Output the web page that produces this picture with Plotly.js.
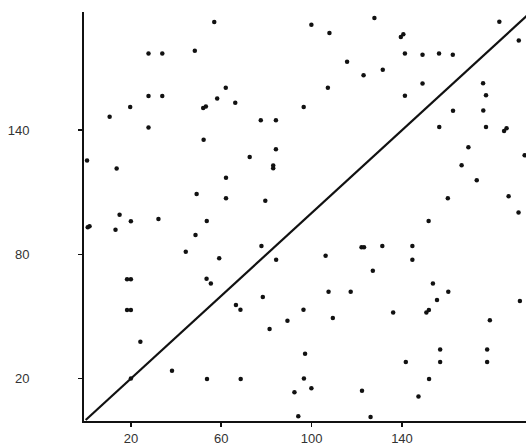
<!DOCTYPE html>
<html>
<head>
<meta charset="utf-8">
<script src="https://cdn.plot.ly/plotly-3.0.1.min.js"></script>
<style>
  html, body { margin: 0; padding: 0; background: #ffffff; }
  #chart { width: 526px; height: 446px; }
</style>
</head>
<body>
<div id="chart"></div>
<script>
// Scatter of paired observations with the identity line y = x.
const pointX = [
  27.8, 33.9, 48.3, 27.8, 33.9, 19.7, 10.6, 27.8, 0.6, 13.7,
  15.0, 56.9, 62.0, 58.2, 52.0, 53.2, 66.2, 96.5, 77.5, 84.2,
  52.2, 84.2, 72.6, 83.0, 83.0, 62.1, 49.1, 62.1, 79.5, 99.9,
  107.9, 127.8, 139.5, 140.6, 141.3, 115.7, 123.0, 131.5, 107.2, 141.3,
  149.1, 156.4, 162.5, 183.1, 191.7, 149.1, 175.9, 177.2, 162.6, 176.0,
  156.5, 177.2, 185.2, 186.3, 169.4, 194.3, 166.4, 173.1, 160.3, 187.2,
  191.6, 151.8, 0.9, 1.7, 13.2, 20.0, 32.2, 44.3, 18.3, 20.0,
  18.3, 20.0, 24.2, 38.2, 20.0, 53.6, 48.6, 77.8, 59.1, 84.3,
  53.5, 55.4, 78.4, 66.5, 68.5, 96.4, 89.3, 81.4, 97.1, 53.7,
  68.6, 96.6, 92.4, 94.1, 106.2, 122.1, 123.2, 131.3, 144.6, 144.6,
  127.1, 107.5, 117.3, 153.7, 160.5, 155.5, 192.2, 109.4, 136.1, 150.8,
  151.9, 178.9, 99.9, 156.9, 177.7, 141.7, 156.9, 177.7, 152.0, 122.3,
  147.3, 126.1
];
const pointY = [
  177.0, 177.0, 178.4, 156.5, 156.5, 151.2, 146.5, 141.3, 125.4, 121.5,
  99.2, 192.3, 160.5, 155.3, 150.7, 151.4, 153.3, 151.2, 144.8, 144.8,
  135.4, 130.8, 127.1, 122.9, 121.6, 117.0, 109.2, 107.1, 105.9, 191.0,
  187.0, 194.2, 185.0, 186.4, 177.1, 173.1, 166.5, 169.2, 160.5, 156.7,
  176.5, 177.1, 176.5, 192.4, 183.3, 162.6, 162.7, 156.9, 149.4, 149.5,
  141.5, 141.6, 139.6, 140.9, 131.8, 127.9, 123.1, 115.8, 107.1, 108.1,
  100.2, 96.1, 93.1, 93.6, 91.9, 96.0, 97.1, 81.3, 68.0, 68.0,
  53.1, 53.1, 37.8, 23.8, 20.0, 96.1, 89.4, 84.0, 78.1, 77.4,
  68.2, 66.0, 59.4, 55.6, 53.3, 53.3, 48.0, 44.0, 32.0, 19.8,
  19.8, 20.0, 13.4, 1.8, 79.4, 83.4, 83.4, 84.1, 84.1, 77.4,
  72.1, 62.0, 62.0, 66.0, 62.0, 58.0, 57.5, 49.3, 51.9, 51.9,
  53.2, 48.2, 15.4, 34.0, 34.0, 28.0, 28.0, 28.0, 19.8, 14.1,
  11.4, 1.4
];

// Identity reference line endpoints
const lineX = [0, 200];
const lineY = [0, 200];

// Tick positions and labels
const xTickVals = [20, 60, 100, 140];
const xTickText = ['20', '60', '100', '140'];
const yTickVals = [20, 80, 140];
const yTickText = ['20', '80', '140'];

const traces = [
  {
    x: lineX, y: lineY,
    type: 'scatter', mode: 'lines',
    line: { color: '#111111', width: 2.2 },
    hoverinfo: 'skip', showlegend: false
  },
  {
    x: pointX, y: pointY,
    type: 'scatter', mode: 'markers',
    marker: { color: '#111111', size: 4.5, symbol: 'circle', line: { width: 0 } },
    showlegend: false
  }
];

const axisFont = { family: '"Liberation Sans", Arial, sans-serif', size: 13, color: '#333333' };

const layout = {
  width: 526, height: 446,
  margin: { l: 83.7, r: 0, t: 12, b: 25, pad: 0 },
  paper_bgcolor: '#ffffff', plot_bgcolor: '#ffffff',
  showlegend: false,
  xaxis: {
    range: [-0.75, 194.9],
    showgrid: false, zeroline: false,
    showline: true, linecolor: '#111111', linewidth: 2,
    ticks: 'outside', ticklen: 4, tickwidth: 1.5, tickcolor: '#111111',
    tickmode: 'array', tickvals: xTickVals, ticktext: xTickText,
    tickfont: axisFont
  },
  yaxis: {
    range: [-0.48, 197.1],
    showgrid: false, zeroline: false,
    showline: true, linecolor: '#111111', linewidth: 2,
    ticks: 'outside', ticklen: 4, tickwidth: 1.5, tickcolor: '#111111',
    tickmode: 'array', tickvals: yTickVals, ticktext: yTickText,
    ticklabelstandoff: 46,
    tickfont: axisFont
  }
};

Plotly.newPlot('chart', traces, layout, { displayModeBar: false, staticPlot: true });
</script>
</body>
</html>
